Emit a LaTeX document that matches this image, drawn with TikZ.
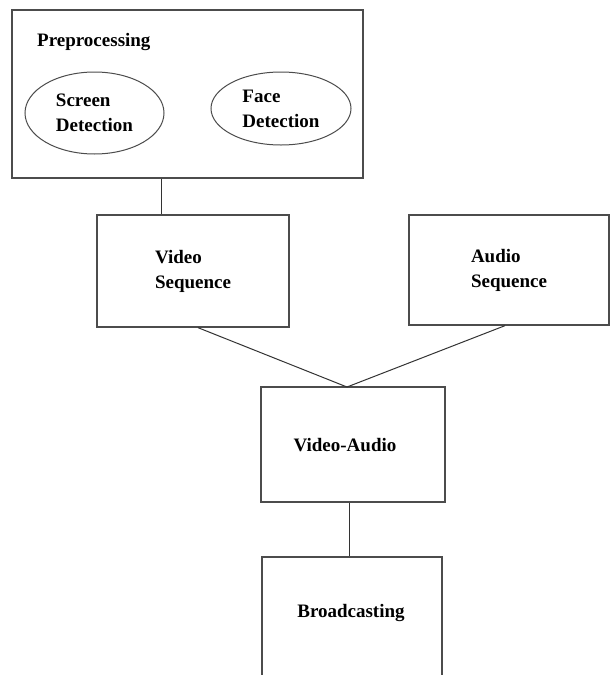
\documentclass[tikz,border=0pt]{standalone}
\usepackage{fontspec}
\setmainfont{Liberation Serif}
\usetikzlibrary{shapes.geometric}
\newcommand\dgfont{\fontsize{19}{25}\selectfont\bfseries}
\begin{document}
\begin{tikzpicture}[x=1pt,y=-1pt,
  box/.style={draw=black!70, line width=1.3pt, rectangle, inner sep=0pt, align=left, font=\dgfont},
  oval/.style={draw=black!70, line width=1pt, ellipse, inner sep=0pt, align=left, font=\dgfont},
  txt/.style={inner sep=0pt, align=left, font=\dgfont},
  conn/.style={draw=black!80, line width=1pt}]
\useasboundingbox (0,0) rectangle (611,675);
\clip (0,0) rectangle (611,675);
\fill[white] (0,0) rectangle (611,675);
% nodes
\node[box, minimum width=351pt, minimum height=168pt] (pre) at (187.5,94) {};
\node[txt, anchor=base west] (pretxt) at (37,46) {Preprocessing};
\node[oval, minimum width=139pt, minimum height=82pt] (screen) at (94.5,113) {Screen\\Detection};
\node[oval, minimum width=140pt, minimum height=73pt] (face) at (281,108.5) {Face\\Detection};
\node[box, minimum width=192pt, minimum height=112pt] (video) at (193,271) {Video\\Sequence};
\node[box, minimum width=200pt, minimum height=110pt] (audio) at (509,270) {Audio\\Sequence};
\node[box, minimum width=184pt, minimum height=115pt] (va) at (353,444.5) {};
\node[txt] (vatxt) at (345,445) {Video-Audio};
\node[box, minimum width=180pt, minimum height=160pt] (bc) at (352,637) {};
\node[txt] (bctxt) at (351,613) {Broadcasting};
% connector helpers
\coordinate (x1) at (161,0);
\coordinate (x2) at (198,0);
\coordinate (x3) at (505,0);
\coordinate (x4) at (349,0);
\coordinate (apex) at (347,387);
% connectors
\draw[conn] (pre.south -| x1) -- (video.north -| x1);
\draw[conn] (video.south -| x2) -- (apex) -- (audio.south -| x3);
\draw[conn] (va.south -| x4) -- (bc.north -| x4);
\end{tikzpicture}
\end{document}
